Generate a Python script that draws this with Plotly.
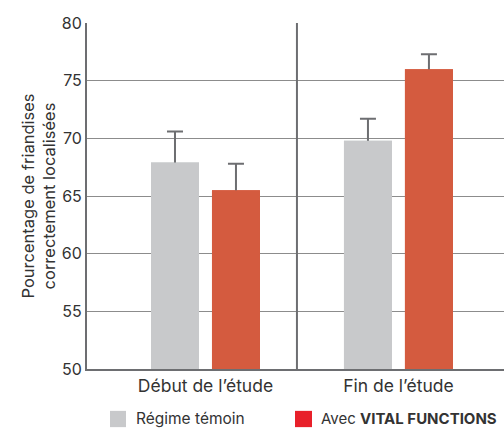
import plotly.graph_objects as go

categories = ["Début de l’étude", "Fin de l’étude"]
control = [67.9, 69.8]
control_err = [2.7, 1.9]
vital = [65.5, 76.0]
vital_err = [2.3, 1.3]
yticks = [50, 55, 60, 65, 70, 75, 80]

GREY = "#C8C9CB"
RED = "#D45B3F"
AXIS = "#6D6E71"
FONT = "Inter, Roboto, sans-serif"

fig = go.Figure()
# bars with error bars first, then plain copies on top so only the upper whisker shows
for vals, errs, col, grp in [(control, control_err, GREY, "c"), (vital, vital_err, RED, "v")]:
    fig.add_trace(go.Bar(
        x=categories, y=vals, marker_color=col, marker_line_width=0,
        offsetgroup=grp,
        error_y=dict(type="data", symmetric=False, array=errs,
                     arrayminus=[0.3] * len(errs), color=AXIS,
                     thickness=2, width=8),
        showlegend=False, hoverinfo="skip",
    ))
for vals, col, grp in [(control, GREY, "c"), (vital, RED, "v")]:
    fig.add_trace(go.Bar(
        x=categories, y=vals, marker_color=col, marker_line_width=0,
        offsetgroup=grp, showlegend=False,
    ))

fig.update_layout(
    width=504, height=428,
    margin=dict(l=87, r=0, t=23, b=59),
    paper_bgcolor="white", plot_bgcolor="white",
    barmode="group", bargap=0.368, bargroupgap=0.213,
    font=dict(family=FONT, color="#333333", size=16),
    xaxis=dict(range=[-0.614, 1.547], showgrid=False, ticks="",
               showline=True, linecolor=AXIS, linewidth=2,
               tickfont=dict(size=17.5)),
    yaxis=dict(range=[50, 80], tickvals=yticks, showgrid=True,
               gridcolor="#8C8C8C", gridwidth=1, zeroline=False,
               showline=True, linecolor=AXIS, linewidth=2,
               ticks="", ticklen=0, tickfont=dict(size=16),
               title=dict(text="Pourcentage de friandises<br>correctement localisées",
                          font=dict(size=16.5), standoff=2)),
    shapes=[
        dict(type="line", xref="x", yref="paper", x0=0.474, x1=0.474,
             y0=0, y1=1, line=dict(color=AXIS, width=2)),
        dict(type="rect", xref="paper", yref="paper", x0=23 / 417, x1=39 / 417,
             y0=-0.121, y1=-0.168, fillcolor=GREY, line_width=0),
        dict(type="rect", xref="paper", yref="paper", x0=208 / 417, x1=225 / 417,
             y0=-0.121, y1=-0.168, fillcolor="#E8202A", line_width=0),
    ],
    annotations=[
        dict(text="Régime témoin", xref="paper", yref="paper", x=47 / 417,
             y=-0.144, xanchor="left", yanchor="middle", showarrow=False,
             font=dict(size=15.5)),
        dict(text="Avec <b>VITAL FUNCTIONS</b>", xref="paper", yref="paper",
             x=232 / 417, y=-0.144, xanchor="left", yanchor="middle",
             showarrow=False, font=dict(size=15)),
    ],
)

fig.write_html("out.html", config={"displayModeBar": False},
               post_script="document.body.style.margin='0';")
